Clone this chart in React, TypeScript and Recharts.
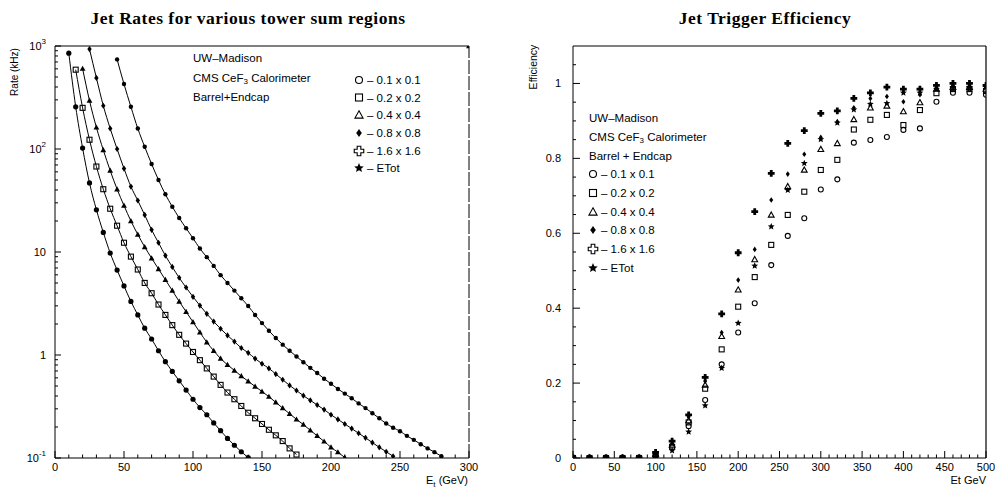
import React from 'react'
import { ComposedChart, Line, Scatter, XAxis, YAxis, ReferenceLine } from 'recharts'

// left panel: jet rate (kHz) vs Et (GeV), one curve per tower sum region
const rateEt = [
  10, 15, 20, 25, 30, 35, 40, 45, 50, 55, 60, 65, 70, 75, 80, 85, 90, 95, 100, 105, 110, 115, 120,
  125, 130, 135, 140, 145, 150, 155, 160, 165, 170, 175, 180, 185, 190, 195, 200, 205, 210, 215,
  220, 225, 230, 235, 240, 245, 250, 255, 260, 265, 270, 275, 280,
]

const rate01 = [
  851, 257, 102, 46.8, 25.7, 15.5, 9.77, 6.68, 4.68, 3.31, 2.45, 1.82, 1.43, 1.1, 0.861, 0.692,
  0.562, 0.457, 0.372, 0.309, 0.263, 0.219, 0.184, 0.155, 0.133, 0.115, 0.101,
]
const rate02 = [
  589, 251, 123, 67.6, 40.7, 26.3, 18.0, 12.3, 9.02, 6.76, 5.01, 3.98, 3.09, 2.45, 1.95, 1.57, 1.29,
  1.07, 0.891, 0.741, 0.617, 0.513, 0.432, 0.372, 0.32, 0.275, 0.243, 0.214, 0.188, 0.166, 0.146,
  0.124, 0.108,
]
const rate04 = [
  603, 295, 162, 97.7, 61.7, 40.7, 28.2, 20.0, 14.8, 11.2, 8.71, 6.84, 5.37, 4.22, 3.31, 2.63, 2.09,
  1.66, 1.33, 1.1, 0.923, 0.804, 0.708, 0.624, 0.556, 0.495, 0.442, 0.394, 0.347, 0.305, 0.269,
  0.237, 0.211, 0.186, 0.164, 0.145, 0.127, 0.114, 0.101,
]
const rate08 = [
  933, 490, 263, 158, 100, 64.6, 43.2, 31.6, 22.9, 16.4, 12.3, 9.23, 7.16, 5.62, 4.52, 3.67, 3.02,
  2.51, 2.11, 1.8, 1.55, 1.35, 1.17, 1.05, 0.923, 0.822, 0.741, 0.653, 0.575, 0.507, 0.452, 0.403,
  0.363, 0.327, 0.295, 0.263, 0.237, 0.214, 0.193, 0.174, 0.157, 0.141, 0.127, 0.115, 0.104,
]
const rate16 = [
  741, 427, 257, 158, 105, 71.6, 50.1, 36.3, 27.5, 21.4, 17.0, 13.6, 10.8, 8.91, 7.33, 5.96, 5.01,
  4.22, 3.55, 2.99, 2.45, 2.04, 1.72, 1.46, 1.26, 1.1, 0.966, 0.851, 0.75, 0.668, 0.589, 0.525,
  0.468, 0.422, 0.38, 0.339, 0.305, 0.272, 0.243, 0.216, 0.197, 0.182, 0.164, 0.15, 0.136, 0.124,
  0.114, 0.104,
]
const rateTotEt = [300]
const rateTot = [1000]

const rateXTicks = [
  0, 10, 20, 30, 40, 50, 60, 70, 80, 90, 100, 110, 120, 130, 140, 150, 160, 170, 180, 190, 200,
  210, 220, 230, 240, 250, 260, 270, 280, 290, 300,
]
const rateXLabels = [0, 50, 100, 150, 200, 250, 300]
const rateYTicks = [
  0.1, 0.2, 0.3, 0.4, 0.5, 0.6, 0.7, 0.8, 0.9, 1, 2, 3, 4, 5, 6, 7, 8, 9, 10, 20, 30, 40, 50, 60, 70,
  80, 90, 100, 200, 300, 400, 500, 600, 700, 800, 900, 1000,
]
const rateYLabels = [0.1, 1, 10, 100, 1000]

// right panel: trigger efficiency vs Et
const effEt = [
  0, 20, 40, 60, 80, 100, 120, 140, 160, 180, 200, 220, 240, 260, 280, 300, 320, 340, 360, 380, 400,
  420, 440, 460, 480, 500,
]
const eff01 = [
  0, 0, 0, 0, 0, 0.006, 0.028, 0.085, 0.155, 0.25, 0.335, 0.413, 0.515, 0.593, 0.64, 0.717, 0.744,
  0.842, 0.849, 0.857, 0.876, 0.88, 0.951, 0.975, 0.975, 0.97,
]
const eff02 = [
  0, 0, 0, 0, 0, 0.008, 0.03, 0.095, 0.185, 0.29, 0.404, 0.483, 0.569, 0.649, 0.711, 0.769, 0.796,
  0.877, 0.903, 0.916, 0.889, 0.929, 0.974, 0.985, 0.985, 0.98,
]
const eff04 = [
  0, 0, 0, 0, 0, 0.01, 0.035, 0.1, 0.195, 0.325, 0.449, 0.53, 0.649, 0.725, 0.769, 0.824, 0.84,
  0.904, 0.935, 0.94, 0.925, 0.949, 0.985, 0.99, 0.99, 0.985,
]
const eff08 = [
  0, 0, 0, 0, 0, 0.012, 0.04, 0.11, 0.205, 0.335, 0.475, 0.557, 0.689, 0.758, 0.811, 0.856, 0.898,
  0.935, 0.96, 0.965, 0.951, 0.97, 0.99, 0.995, 0.995, 0.99,
]
const eff16 = [
  0, 0, 0, 0, 0, 0.015, 0.045, 0.115, 0.215, 0.385, 0.548, 0.658, 0.76, 0.84, 0.874, 0.92, 0.927,
  0.96, 0.975, 0.99, 0.985, 0.985, 0.995, 1.0, 1.0, 0.995,
]
const effTot = [
  0, 0, 0, 0, 0, 0.004, 0.02, 0.07, 0.14, 0.24, 0.36, 0.513, 0.618, 0.715, 0.787, 0.851, 0.895,
  0.93, 0.945, 0.947, 0.975, 0.975, 0.985, 0.99, 0.99, 0.99,
]

const effXTicks = [
  0, 10, 20, 30, 40, 50, 60, 70, 80, 90, 100, 110, 120, 130, 140, 150, 160, 170, 180, 190, 200, 210,
  220, 230, 240, 250, 260, 270, 280, 290, 300, 310, 320, 330, 340, 350, 360, 370, 380, 390, 400, 410,
  420, 430, 440, 450, 460, 470, 480, 490, 500,
]
const effXLabels = [0, 50, 100, 150, 200, 250, 300, 350, 400, 450, 500]
const effYTicks = [
  0, 0.05, 0.1, 0.15, 0.2, 0.25, 0.3, 0.35, 0.4, 0.45, 0.5, 0.55, 0.6, 0.65, 0.7, 0.75, 0.8, 0.85,
  0.9, 0.95, 1, 1.05,
]
const effYLabels = [0, 0.2, 0.4, 0.6, 0.8, 1]

const regionLabels = ['0.1 x 0.1', '0.2 x 0.2', '0.4 x 0.4', '0.8 x 0.8', '1.6 x 1.6', 'ETot']

const rateSeries = [
  { key: 'r01', start: 10, values: rate01, mark: 'dot', size: 1 },
  { key: 'r02', start: 15, values: rate02, mark: 'square', size: 1 },
  { key: 'r04', start: 20, values: rate04, mark: 'triFill', size: 1 },
  { key: 'r08', start: 25, values: rate08, mark: 'diamond', size: 1.1 },
  { key: 'r16', start: 45, values: rate16, mark: 'dot', size: 0.85 },
]

const rateRows: any[] = rateEt.map((et, i) => {
  const row: any = { et }
  rateSeries.forEach((s) => {
    const j = i - rateEt.indexOf(s.start)
    if (j >= 0 && j < s.values.length) row[s.key] = s.values[j]
  })
  return row
})
const rateTotRows = rateTotEt.map((et, i) => ({ et, rTot: rateTot[i] }))

const effRows = effEt.map((et, i) => ({
  et,
  e01: eff01[i],
  e02: eff02[i],
  e04: eff04[i],
  e08: eff08[i],
  e16: eff16[i],
  eTot: effTot[i],
}))

const effSeries = [
  { key: 'e01', mark: 'circle' },
  { key: 'e02', mark: 'square' },
  { key: 'e04', mark: 'triangle' },
  { key: 'e08', mark: 'diamond' },
  { key: 'e16', mark: 'cross' },
  { key: 'eTot', mark: 'star' },
]

const sans = 'Liberation Sans, Arial, Helvetica, sans-serif'
const serif = 'Liberation Serif, Times New Roman, serif'

const starPath = (cx: number, cy: number, r: number) => {
  let d = ''
  for (let i = 0; i < 10; i++) {
    const rr = i % 2 ? r * 0.45 : r
    const a = -Math.PI / 2 + (i * Math.PI) / 5
    d += (i ? 'L' : 'M') + (cx + rr * Math.cos(a)).toFixed(2) + ' ' + (cy + rr * Math.sin(a)).toFixed(2)
  }
  return d + 'Z'
}

function Marker({ cx, cy, kind, size = 1 }: any) {
  const s = size
  const k = '#000'
  switch (kind) {
    case 'dot':
      return <circle cx={cx} cy={cy} r={2.6 * s} fill={k} />
    case 'circle':
      return <circle cx={cx} cy={cy} r={2.5 * s} fill="none" stroke={k} strokeWidth={1.1} />
    case 'square':
      return (
        <rect x={cx - 2.5 * s} y={cy - 2.5 * s} width={5 * s} height={5 * s} fill="none" stroke={k} strokeWidth={1.1} />
      )
    case 'triangle':
      return (
        <path
          d={`M${cx} ${cy - 3 * s}L${cx + 2.9 * s} ${cy + 2.2 * s}L${cx - 2.9 * s} ${cy + 2.2 * s}Z`}
          fill="none"
          stroke={k}
          strokeWidth={1.1}
        />
      )
    case 'triFill':
      return <path d={`M${cx} ${cy - 3 * s}L${cx + 2.9 * s} ${cy + 2.2 * s}L${cx - 2.9 * s} ${cy + 2.2 * s}Z`} fill={k} />
    case 'diamond':
      return <path d={`M${cx} ${cy - 2.8 * s}L${cx + 2 * s} ${cy}L${cx} ${cy + 2.8 * s}L${cx - 2 * s} ${cy}Z`} fill={k} />
    case 'cross': {
      const a = 3.4 * s
      const b = 1.4 * s
      return (
        <path
          d={`M${cx - b} ${cy - a}H${cx + b}V${cy - b}H${cx + a}V${cy + b}H${cx + b}V${cy + a}H${cx - b}V${cy + b}H${cx - a}V${cy - b}H${cx - b}Z`}
          fill={k}
        />
      )
    }
    case 'crossOpen': {
      const a = 3.4 * s
      const b = 1.3 * s
      return (
        <path
          d={`M${cx - b} ${cy - a}H${cx + b}V${cy - b}H${cx + a}V${cy + b}H${cx + b}V${cy + a}H${cx - b}V${cy + b}H${cx - a}V${cy - b}H${cx - b}Z`}
          fill="none"
          stroke={k}
          strokeWidth={1.1}
        />
      )
    }
    case 'star':
      return <path d={starPath(cx, cy, 3.6 * s)} fill={k} />
    default:
      return null
  }
}

const dotFor = (kind: string, size: number) => (p: any) => {
  if (p.cx == null || p.cy == null || p.value == null) return <g key={`d-${p.index}`} />
  return <Marker key={`d-${p.index}`} cx={p.cx} cy={p.cy} kind={kind} size={size} />
}

function BottomTick(props: any) {
  const { x, y, payload, labels } = props
  const major = labels.includes(payload.value)
  return (
    <g>
      <line x1={x} x2={x} y1={y} y2={y - (major ? 7 : 3.5)} stroke="#000" strokeWidth={1} />
      {major && (
        <text x={x} y={y + 13} textAnchor="middle" fontSize={11} fontFamily={sans} fill="#000">
          {payload.value}
        </text>
      )}
    </g>
  )
}

const logText: Record<string, [string, string]> = {
  '1000': ['10', '3'],
  '100': ['10', '2'],
  '10': ['10', ''],
  '1': ['1', ''],
  '0.1': ['10', '-1'],
}

function LogTick(props: any) {
  const { x, y, payload } = props
  const v = payload.value
  const major = rateYLabels.includes(v)
  const t = logText[String(v)]
  return (
    <g>
      <line x1={x} x2={x + (major ? 6 : 3)} y1={y} y2={y} stroke="#000" strokeWidth={1} />
      {major && t && (
        <text x={x - 9} y={y + 4} textAnchor="end" fontSize={11} fontFamily={sans} fill="#000">
          {t[0]}
          {t[1] && (
            <tspan dy={-6} fontSize={8}>
              {t[1]}
            </tspan>
          )}
        </text>
      )}
    </g>
  )
}

function EffTick(props: any) {
  const { x, y, payload } = props
  const v = payload.value
  const major = effYLabels.includes(v)
  return (
    <g>
      <line x1={x} x2={x + (major ? 7 : 3)} y1={y} y2={y} stroke="#000" strokeWidth={1} />
      {major && (
        <text x={x - 12} y={y + 4} textAnchor="end" fontSize={11} fontFamily={sans} fill="#000">
          {v}
        </text>
      )}
    </g>
  )
}

function RateChart() {
  return (
    <ComposedChart width={480} height={490} data={rateRows} margin={{ top: 46, right: 11, bottom: 12, left: 0 }}>
      <XAxis
        dataKey="et"
        type="number"
        domain={[0, 300]}
        ticks={rateXTicks}
        interval={0}
        height={20}
        tickSize={0}
        tickMargin={0}
        tickLine={false}
        axisLine={{ stroke: '#000' }}
        tick={(p: any) => <BottomTick {...p} labels={rateXLabels} />}
        allowDataOverflow
      />
      <YAxis
        type="number"
        scale="log"
        domain={[0.1, 1000]}
        ticks={rateYTicks}
        interval={0}
        width={55}
        tickSize={0}
        tickMargin={0}
        tickLine={false}
        axisLine={{ stroke: '#000' }}
        tick={(p: any) => <LogTick {...p} />}
        allowDataOverflow
      />
      <ReferenceLine y={1000} stroke="#000" strokeWidth={1} />
      <ReferenceLine x={300} stroke="#000" strokeWidth={1} strokeDasharray="14 2" />
      {rateSeries.map((s) => (
        <Line
          key={s.key}
          dataKey={s.key}
          type="monotone"
          stroke="#000"
          strokeWidth={1}
          dot={dotFor(s.mark, s.size)}
          activeDot={false}
          isAnimationActive={false}
        />
      ))}
      <Scatter
        data={rateTotRows}
        dataKey="rTot"
        isAnimationActive={false}
        shape={(p: any) => <Marker cx={p.cx} cy={p.cy} kind="triFill" size={1} />}
      />
    </ComposedChart>
  )
}

function EffChart() {
  return (
    <ComposedChart width={495} height={490} data={effRows} margin={{ top: 46, right: 9, bottom: 12, left: 0 }}>
      <XAxis
        dataKey="et"
        type="number"
        domain={[0, 500]}
        ticks={effXTicks}
        interval={0}
        height={20}
        tickSize={0}
        tickMargin={0}
        tickLine={false}
        axisLine={{ stroke: '#000' }}
        tick={(p: any) => <BottomTick {...p} labels={effXLabels} />}
        allowDataOverflow
      />
      <YAxis
        type="number"
        domain={[0, 1.1]}
        ticks={effYTicks}
        interval={0}
        width={73}
        tickSize={0}
        tickMargin={0}
        tickLine={false}
        axisLine={{ stroke: '#000' }}
        tick={(p: any) => <EffTick {...p} />}
        allowDataOverflow
      />
      <ReferenceLine y={1.1} stroke="#000" strokeWidth={1} />
      <ReferenceLine x={500} stroke="#000" strokeWidth={1.2} />
      {effSeries.map((s) => (
        <Scatter
          key={s.key}
          data={effRows}
          dataKey={s.key}
          isAnimationActive={false}
          shape={(p: any) => <Marker cx={p.cx} cy={p.cy} kind={s.mark} size={1} />}
        />
      ))}
    </ComposedChart>
  )
}

const legendMarks = ['circle', 'square', 'triangle', 'diamond', 'crossOpen', 'star']

function Overlay() {
  const txt = { fontFamily: sans, fontSize: 11.5, fill: '#000', dominantBaseline: 'central' as const }
  const leftRows = [80, 97.5, 115, 133, 151, 168]
  const rightRows = [174, 193, 212, 230, 249, 268]
  return (
    <svg width={995} height={490} style={{ position: 'absolute', left: 0, top: 0, pointerEvents: 'none' }}>
      <text x={248} y={24} textAnchor="middle" fontFamily={serif} fontWeight="bold" fontSize={17.5} letterSpacing={0.5}>
        Jet Rates for various tower sum regions
      </text>
      <text x={765} y={24} textAnchor="middle" fontFamily={serif} fontWeight="bold" fontSize={17.5} letterSpacing={0.5}>
        Jet Trigger Efficiency
      </text>

      <text transform="translate(18,72) rotate(-90)" textAnchor="middle" fontFamily={sans} fontSize={10}>
        Rate (kHz)
      </text>
      <text x={468} y={484} textAnchor="end" fontFamily={sans} fontSize={11}>
        E<tspan dy={3} fontSize={8}>t</tspan>
        <tspan dy={-3}> (GeV)</tspan>
      </text>
      <text transform="translate(537,67) rotate(-90)" textAnchor="middle" fontFamily={sans} fontSize={10.5}>
        Efficiency
      </text>
      <text x={986} y={484} textAnchor="end" fontFamily={sans} fontSize={11}>
        Et GeV
      </text>

      <text x={193} y={58} {...txt}>UW–Madison</text>
      <text x={193} y={78} {...txt}>
        CMS CeF<tspan dy={3} fontSize={8}>3</tspan>
        <tspan dy={-3}> Calorimeter</tspan>
      </text>
      <text x={193} y={97} {...txt}>Barrel+Endcap</text>
      {regionLabels.map((l, i) => (
        <g key={`ll-${i}`}>
          <Marker cx={359} cy={leftRows[i]} kind={legendMarks[i]} size={1.4} />
          <text x={367} y={leftRows[i]} {...txt}>
            – {l}
          </text>
        </g>
      ))}

      <text x={589} y={118} {...txt}>UW–Madison</text>
      <text x={589} y={137} {...txt}>
        CMS CeF<tspan dy={3} fontSize={8}>3</tspan>
        <tspan dy={-3}> Calorimeter</tspan>
      </text>
      <text x={589} y={156} {...txt}>Barrel + Endcap</text>
      {regionLabels.map((l, i) => (
        <g key={`rl-${i}`}>
          <Marker cx={593} cy={rightRows[i]} kind={legendMarks[i]} size={1.4} />
          <text x={601} y={rightRows[i]} {...txt}>
            – {l}
          </text>
        </g>
      ))}
    </svg>
  )
}

export default function App() {
  return (
    <div style={{ position: 'absolute', left: 0, top: 0, width: 995, height: 490, background: '#fff', overflow: 'hidden' }}>
      <div style={{ position: 'absolute', left: 0, top: 0 }}>
        <RateChart />
      </div>
      <div style={{ position: 'absolute', left: 500, top: 0 }}>
        <EffChart />
      </div>
      <Overlay />
    </div>
  )
}
